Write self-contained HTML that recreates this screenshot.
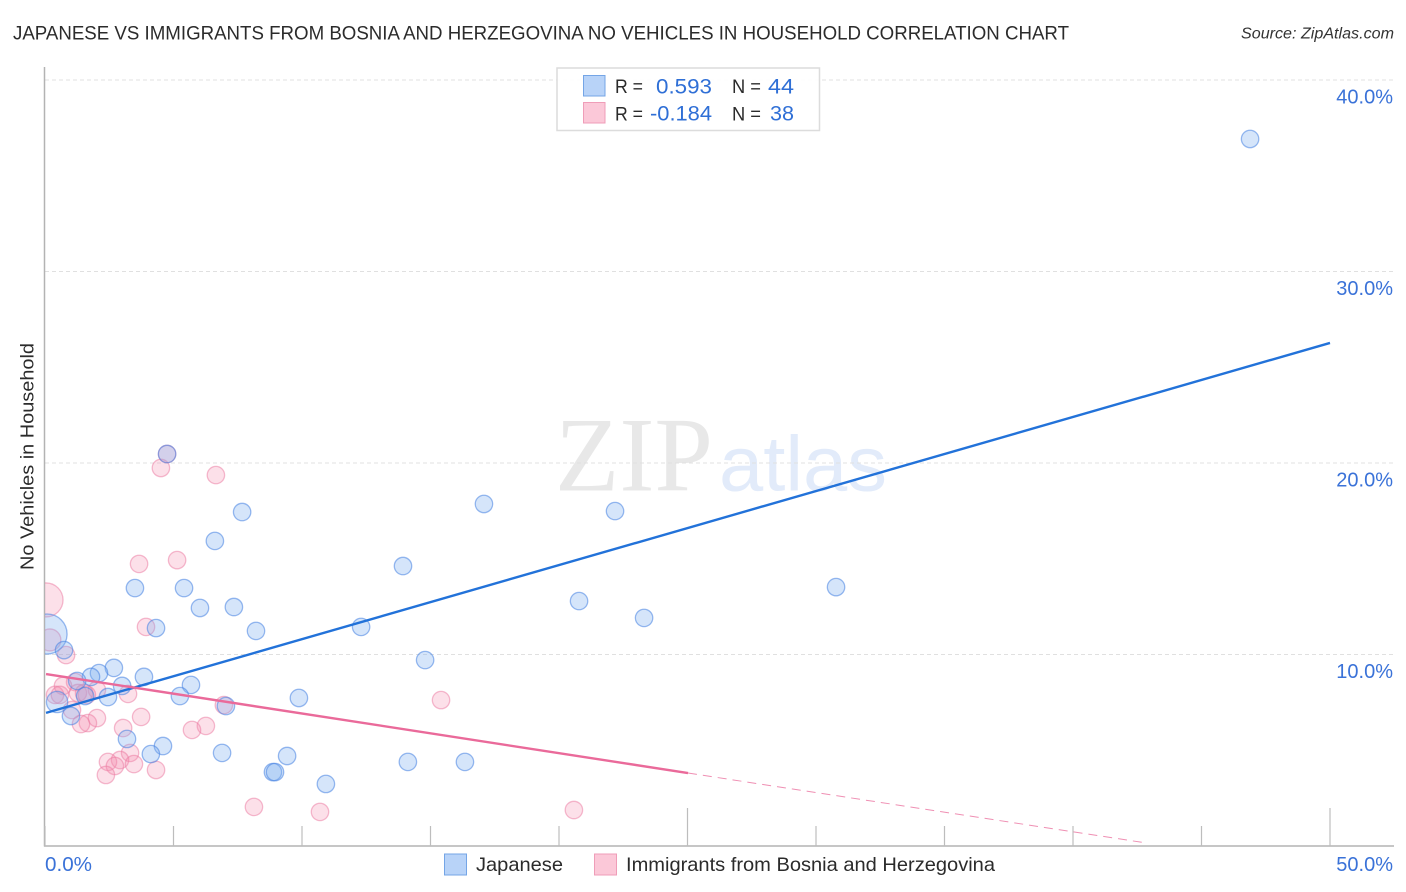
<!DOCTYPE html>
<html lang="en">
<head>
<meta charset="utf-8">
<title>Japanese vs Immigrants from Bosnia and Herzegovina No Vehicles in Household Correlation Chart</title>
<style>
html,body{margin:0;padding:0;background:#fff;width:1406px;height:892px;overflow:hidden}
svg{display:block;font-family:"Liberation Sans",sans-serif}
</style>
</head>
<body>
<svg id="chart" width="1406" height="892" viewBox="0 0 1406 892" xmlns="http://www.w3.org/2000/svg">
  <defs>
    <clipPath id="plot-clip" clipPathUnits="userSpaceOnUse"><rect x="45" y="60" width="1350" height="786"/></clipPath>
  </defs>
  <rect x="0" y="0" width="1406" height="892" fill="#ffffff"/>
  <text x="13" y="39.5" font-size="19.5" fill="#2b2b2b" textLength="1056" lengthAdjust="spacingAndGlyphs">JAPANESE VS IMMIGRANTS FROM BOSNIA AND HERZEGOVINA NO VEHICLES IN HOUSEHOLD CORRELATION CHART</text>
  <text x="1241" y="38.5" font-size="15.5" font-style="italic" fill="#333" textLength="153" lengthAdjust="spacingAndGlyphs">Source: ZipAtlas.com</text>
  <text x="555" y="490.5" font-family="'Liberation Serif',serif" font-size="106" fill="#e8e8e8" textLength="158" lengthAdjust="spacingAndGlyphs">ZIP</text>
  <text x="719" y="490.5" font-size="78" fill="#e2ebfa" textLength="168" lengthAdjust="spacingAndGlyphs">atlas</text>
  <g id="grid"></g>
  <g id="axes"></g>
  <g id="points" clip-path="url(#plot-clip)"></g>
  <g id="trends"></g>
  <g id="tick-labels"></g>
  <text transform="translate(33.5,570) rotate(-90)" x="0" y="0" font-size="18.5" fill="#2b2b2b" textLength="227" lengthAdjust="spacingAndGlyphs">No Vehicles in Household</text>

  <g>
    <rect x="557" y="68" width="262.5" height="62.5" fill="#ffffff" fill-opacity="0.9" stroke="#dcdcdc" stroke-width="1.5"/>
    <rect x="583.5" y="75.5" width="21.5" height="20.5" fill="#b8d3f8" stroke="#74a5e6" stroke-width="1"/>
    <rect x="583.5" y="102.5" width="21.5" height="20.5" fill="#fbc8d8" stroke="#ef9db8" stroke-width="1"/>
    <text x="615" y="93" font-size="19.5" fill="#2b2b2b" textLength="28" lengthAdjust="spacingAndGlyphs">R =</text>
    <text x="656" y="93.5" font-size="21.5" fill="#2f6fd6" textLength="56" lengthAdjust="spacingAndGlyphs">0.593</text>
    <text x="732" y="93" font-size="19.5" fill="#2b2b2b" textLength="29" lengthAdjust="spacingAndGlyphs">N =</text>
    <text x="768" y="93.5" font-size="21.5" fill="#2f6fd6" textLength="26" lengthAdjust="spacingAndGlyphs">44</text>
    <text x="615" y="120.5" font-size="19.5" fill="#2b2b2b" textLength="28" lengthAdjust="spacingAndGlyphs">R =</text>
    <text x="650" y="120.5" font-size="21.5" fill="#2f6fd6" textLength="62" lengthAdjust="spacingAndGlyphs">-0.184</text>
    <text x="732" y="120.5" font-size="19.5" fill="#2b2b2b" textLength="29" lengthAdjust="spacingAndGlyphs">N =</text>
    <text x="770" y="120.5" font-size="21.5" fill="#2f6fd6" textLength="24" lengthAdjust="spacingAndGlyphs">38</text>
  </g>

  <g>
    <rect x="444.5" y="854" width="22" height="21" fill="#b8d3f8" stroke="#74a5e6" stroke-width="1"/>
    <text x="476" y="871" font-size="19.5" fill="#2b2b2b" textLength="87" lengthAdjust="spacingAndGlyphs">Japanese</text>
    <rect x="594.5" y="854" width="22" height="21" fill="#fbc8d8" stroke="#ef9db8" stroke-width="1"/>
    <text x="626" y="871" font-size="19.5" fill="#2b2b2b" textLength="369" lengthAdjust="spacingAndGlyphs">Immigrants from Bosnia and Herzegovina</text>
  </g>
</svg>
<script>
const xTickValues = [0, 5, 10, 15, 20, 25, 30, 35, 40, 45, 50];
const xMajorTicks = [25, 50];
const xTickLabels = ["0.0%", "50.0%"];
const xLabelValues = [0, 50];
const yTickValues = [10, 20, 30, 40];
const yTickLabels = ["10.0%", "20.0%", "30.0%", "40.0%"];

const japaneseX = [46.89,4.75,17.08,22.18,7.67,6.61,13.93,3.50,5.41,30.78,20.78,6.03,7.35,23.31,4.32,12.30,8.21,0.08,0.74,14.79,2.68,2.10,1.79,3.85,1.25,3.00,5.68,1.56,2.45,5.25,9.88,7.04,0.47,1.01,3.19,4.59,4.12,6.89,9.42,14.12,16.34,8.87,8.95,10.93];
const japaneseY = [36.92,20.47,17.86,17.49,17.44,15.93,14.62,13.47,13.47,13.52,12.79,12.43,12.48,11.91,11.38,11.44,11.23,11.07,10.23,9.71,9.30,9.03,8.83,8.83,8.62,8.36,8.41,7.83,7.78,7.83,7.73,7.31,7.52,6.79,5.59,5.22,4.80,4.86,4.70,4.39,4.39,3.86,3.86,3.24];
const japaneseWeight = [1,1,1,1,1,1,1,1,1,1,1,1,1,1,1,1,1,5.28,1,1,1,1,1,1,1,1,1,1,1,1,1,1,1.5,1,1,1,1,1,1,1,1,1,1,1];

const immigrantsX = [4.75,4.51,6.65,3.66,5.14,0.04,3.93,0.19,0.82,1.17,0.70,0.39,0.58,1.28,2.02,1.63,3.23,1.05,2.02,1.67,1.40,3.74,3.04,6.26,5.72,6.96,15.41,3.31,2.92,2.45,2.72,3.46,4.32,2.37,8.13,10.70,20.58,1.52];
const immigrantsY = [20.47,19.74,19.37,14.73,14.93,12.85,11.44,10.76,9.97,8.56,8.36,7.89,7.89,7.99,8.15,7.89,7.94,7.10,6.68,6.42,6.37,6.74,6.16,6.27,6.06,7.36,7.62,4.86,4.49,4.39,4.18,4.28,3.97,3.71,2.04,1.78,1.88,7.99];
const immigrantsWeight = [1,1,1,1,1,3.82,1,1.6,1,1,1,1,1,1,1,1,1,1,1,1,1,1,1,1,1,1,1,1,1,1,1,1,1,1,1,1,1,1];

const japaneseTrendX = [0.04, 50];
const japaneseTrendY = [6.95, 26.27];
const immigrantsTrendX = [0.04, 25.02];
const immigrantsTrendY = [8.98, 3.81];
const immigrantsForecastX = [25.02, 42.84];
const immigrantsForecastY = [3.81, 0.16];

const NS = "http://www.w3.org/2000/svg";
function xScale(v) { return 45 + v * 25.7; }
function yScale(v) { return 846 - v * 19.15; }
function rScale(w) { return 8.7 * Math.sqrt(w); }
function make(tag, parent, attrs) {
  const el = document.createElementNS(NS, tag);
  for (const k in attrs) el.setAttribute(k, attrs[k]);
  parent.appendChild(el);
  return el;
}

const gridGroup = document.getElementById("grid");
yTickValues.forEach(function (v) {
  const el = make("line", gridGroup, { x1: 45, x2: 1393, y1: yScale(v), y2: yScale(v), stroke: "#e0e0e0", "stroke-width": 1, "stroke-dasharray": "4 3" });
  
  
});

const axesGroup = document.getElementById("axes");
const yAxis = make("line", axesGroup, { x1: 44.5, x2: 44.5, y1: 67, y2: 846.5, stroke: "#b3b3b3", "stroke-width": 1.5 });


const xAxis = make("line", axesGroup, { x1: 44, x2: 1394, y1: 846, y2: 846, stroke: "#b3b3b3", "stroke-width": 1.5 });


xTickValues.forEach(function (v) {
  const top = xMajorTicks.indexOf(v) >= 0 ? 808 : 826;
  const el = make("line", axesGroup, { x1: xScale(v), x2: xScale(v), y1: top, y2: 846, stroke: "#bdbdbd", "stroke-width": 1.2 });
  
  
});

const labelGroup = document.getElementById("tick-labels");
yTickValues.forEach(function (v, i) {
  const el = make("text", labelGroup, { x: 1393, y: yScale(v) + 23.5, "text-anchor": "end", "font-size": 20, fill: "#3a72d8" });
  
  
  el.textContent = yTickLabels[i];
});
xLabelValues.forEach(function (v, i) {
  const el = make("text", labelGroup, i === 0
    ? { x: xScale(v), y: 871, "font-size": 20, fill: "#3a72d8", textLength: 47, lengthAdjust: "spacingAndGlyphs" }
    : { x: 1393, y: 871, "text-anchor": "end", "font-size": 20, fill: "#3a72d8" });
  
  
  el.textContent = xTickLabels[i];
});

const pointGroup = document.getElementById("points");
immigrantsX.forEach(function (v, i) {
  const el = make("circle", pointGroup, { cx: xScale(v), cy: yScale(immigrantsY[i]), r: rScale(immigrantsWeight[i]), fill: "rgba(243,140,172,0.27)", stroke: "rgba(235,120,160,0.50)", "stroke-width": 1.3 });
  
  
});
japaneseX.forEach(function (v, i) {
  const el = make("circle", pointGroup, { cx: xScale(v), cy: yScale(japaneseY[i]), r: rScale(japaneseWeight[i]), fill: "rgba(125,175,240,0.32)", stroke: "rgba(70,130,225,0.55)", "stroke-width": 1.3 });
  
  
});

const trendGroup = document.getElementById("trends");
const blueTrend = make("line", trendGroup, { x1: xScale(japaneseTrendX[0]), y1: yScale(japaneseTrendY[0]), x2: xScale(japaneseTrendX[1]), y2: yScale(japaneseTrendY[1]), stroke: "#2272d9", "stroke-width": 2.4 });


const pinkTrend = make("line", trendGroup, { x1: xScale(immigrantsTrendX[0]), y1: yScale(immigrantsTrendY[0]), x2: xScale(immigrantsTrendX[1]), y2: yScale(immigrantsTrendY[1]), stroke: "#ea6a9a", "stroke-width": 2.4 });


const pinkForecast = make("line", trendGroup, { x1: xScale(immigrantsForecastX[0]), y1: yScale(immigrantsForecastY[0]), x2: xScale(immigrantsForecastX[1]), y2: yScale(immigrantsForecastY[1]), stroke: "#ea6a9a", "stroke-opacity": 0.75, "stroke-width": 1, "stroke-dasharray": "9 6" });


</script>
</body>
</html>
